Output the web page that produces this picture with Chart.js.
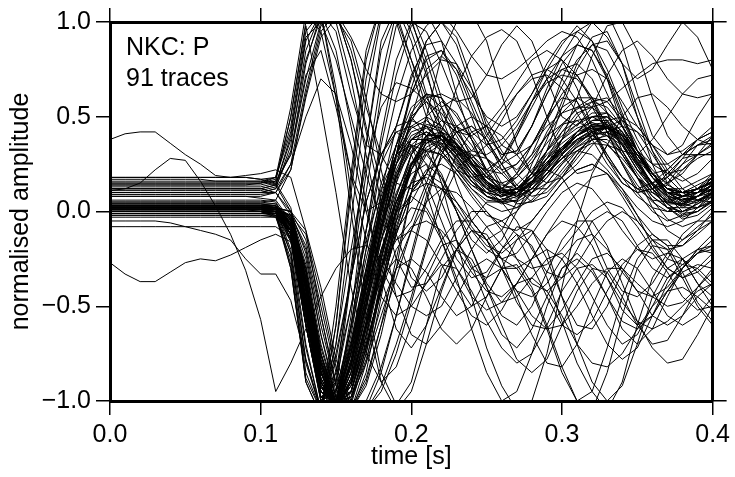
<!DOCTYPE html>
<html>
<head>
<meta charset="utf-8">
<script src="https://cdn.jsdelivr.net/npm/chart.js@4.4.1/dist/chart.umd.min.js"></script>
<style>
html,body{margin:0;padding:0;background:#fff;}
canvas{display:block;}
</style>
</head>
<body>
<canvas id="chart" width="735" height="477"></canvas>
<script>
// time samples (s), 100 Hz
const times = [0,0.01,0.02,0.03,0.04,0.05,0.06,0.07,0.08,0.09,0.1,0.11,0.12,0.13,0.14,0.15,0.16,0.17,0.18,0.19,0.2,
  0.21,0.22,0.23,0.24,0.25,0.26,0.27,0.28,0.29,0.3,0.31,0.32,0.33,0.34,0.35,0.36,0.37,0.38,0.39,0.4];
const xTicks = [0,0.1,0.2,0.3,0.4];
const yTicks = [-1,-0.5,0,0.5,1];

// main bundle, downward first motion
const trace01 = [0.02,0.02,0.02,0.02,0.02,0.02,0.02,0.02,0.02,0.02,0.02,0.01,-0.08,-0.45,-0.88,-1.04,-0.82,-0.45,-0.08,0.18,0.32,0.38,0.36,0.29,0.2,0.13,0.09,0.1,0.15,0.23,0.31,0.38,0.43,0.44,0.37,0.26,0.15,0.07,0.04,0.06,0.1];
const trace02 = [0.01,0.01,0.01,0.01,0.01,0.01,0.01,0.01,0.01,0.01,0.01,0,-0.12,-0.55,-0.95,-1.02,-0.72,-0.32,0.02,0.25,0.38,0.42,0.35,0.25,0.16,0.1,0.08,0.12,0.2,0.28,0.34,0.4,0.46,0.45,0.35,0.22,0.12,0.05,0.03,0.08,0.14];
const trace03 = [0.03,0.03,0.03,0.03,0.03,0.03,0.03,0.03,0.03,0.03,0.03,0.02,-0.04,-0.35,-0.8,-1,-0.96,-0.62,-0.25,0.05,0.25,0.36,0.4,0.35,0.26,0.16,0.09,0.07,0.12,0.2,0.3,0.37,0.41,0.42,0.38,0.3,0.18,0.09,0.04,0.02,0.05];
const trace04 = [0,0,0,0,0,0,0,0,0,0,0,-0.02,-0.22,-0.8,-1.05,-0.5,0.2,0.85,1.1,1,0.75,0.5,0.32,0.22,0.18,0.2,0.28,0.42,0.58,0.7,0.75,0.72,0.6,0.42,0.25,0.12,0.06,0.05,0.08,0.12,0.16];
const trace05 = [0.02,0.02,0.02,0.02,0.02,0.02,0.02,0.02,0.02,0.02,0.02,0.02,-0.03,-0.28,-0.7,-0.98,-1.04,-0.88,-0.6,-0.35,-0.1,0.12,0.28,0.34,0.3,0.2,0.1,0.04,0.05,0.12,0.22,0.32,0.38,0.4,0.35,0.25,0.15,0.08,0.06,0.08,0.12];
const trace06 = [0.04,0.04,0.04,0.04,0.04,0.04,0.04,0.04,0.04,0.04,0.04,0.03,-0.07,-0.45,-0.88,-1.02,-0.78,-0.4,-0.02,0.3,0.5,0.58,0.52,0.4,0.26,0.15,0.1,0.12,0.2,0.32,0.45,0.55,0.6,0.58,0.48,0.32,0.18,0.1,0.08,0.12,0.18];
const trace07 = [0.01,0.01,0.01,0.01,0.01,0.01,0.01,0.01,0.01,0.01,0,-0.03,-0.25,-0.85,-1.05,-0.75,-0.35,0.05,0.3,0.45,0.48,0.45,0.36,0.24,0.14,0.08,0.06,0.1,0.18,0.25,0.32,0.4,0.48,0.5,0.42,0.28,0.14,0.04,-0.02,0,0.06];
const trace08 = [0.02,0.02,0.02,0.02,0.02,0.02,0.02,0.02,0.02,0.02,0.02,0.02,0,-0.22,-0.65,-0.98,-1.06,-0.85,-0.45,-0.05,0.25,0.4,0.42,0.36,0.25,0.15,0.1,0.1,0.14,0.2,0.28,0.36,0.42,0.44,0.4,0.3,0.2,0.12,0.08,0.08,0.1];
const trace09 = [0.03,0.03,0.03,0.03,0.03,0.03,0.03,0.03,0.03,0.03,0.03,0.02,-0.15,-0.7,-1.05,-0.6,0.1,0.7,1.05,1.1,0.95,0.72,0.5,0.3,0.2,0.18,0.25,0.4,0.58,0.75,0.88,0.98,0.9,0.7,0.45,0.28,0.2,0.22,0.3,0.35,0.38];
const trace10 = [-0.01,-0.01,-0.01,-0.01,-0.01,-0.01,-0.01,-0.01,-0.01,-0.01,-0.01,-0.01,-0.1,-0.48,-0.9,-1.02,-0.85,-0.5,-0.15,0.1,0.26,0.32,0.3,0.22,0.12,0.04,0,0.02,0.1,0.2,0.28,0.34,0.38,0.38,0.3,0.18,0.06,-0.04,-0.08,-0.05,0.02];
const trace11 = [0.02,0.02,0.02,0.02,0.02,0.02,0.02,0.02,0.02,0.02,0.02,0.01,-0.07,-0.42,-0.85,-1.04,-0.88,-0.55,-0.2,0.05,0.2,0.25,0.18,0.05,-0.08,-0.18,-0.22,-0.15,-0.05,0.05,0.15,0.22,0.25,0.2,0.08,-0.05,-0.15,-0.2,-0.18,-0.1,-0.05];
const trace12 = [0.01,0.01,0.01,0.01,0.01,0.01,0.01,0.01,0.01,0.01,0.01,0,-0.22,-0.78,-1.05,-0.7,-0.2,0.25,0.55,0.68,0.65,0.58,0.45,0.35,0.25,0.18,0.15,0.18,0.26,0.36,0.46,0.54,0.58,0.55,0.45,0.32,0.2,0.12,0.1,0.12,0.16];
const trace13 = [0.02,0.02,0.02,0.02,0.02,0.02,0.02,0.02,0.02,0.02,0.02,0.02,-0.04,-0.3,-0.75,-1.02,-1,-0.72,-0.38,-0.08,0.15,0.3,0.36,0.34,0.28,0.2,0.14,0.12,0.16,0.24,0.33,0.4,0.45,0.46,0.41,0.32,0.22,0.14,0.1,0.1,0.12];
const trace14 = [0.03,0.03,0.03,0.03,0.03,0.03,0.03,0.03,0.03,0.03,0.03,0.03,-0.06,-0.48,-0.92,-1.05,-0.6,-0.1,0.35,0.72,0.98,1.05,0.9,0.62,0.38,0.2,0.1,0.1,0.2,0.38,0.58,0.78,0.92,0.95,0.78,0.5,0.25,0.08,0,0.02,0.1];
const trace15 = [-0.02,-0.02,-0.02,-0.02,-0.02,-0.02,-0.02,-0.02,-0.02,-0.02,-0.02,-0.03,-0.1,-0.45,-0.88,-1.03,-0.92,-0.62,-0.3,-0.05,0.1,0.15,0.12,0.05,-0.05,-0.15,-0.25,-0.3,-0.25,-0.12,0,0.1,0.18,0.2,0.12,-0.02,-0.18,-0.3,-0.35,-0.3,-0.22];
const trace16 = [0.02,0.02,0.02,0.02,0.02,0.02,0.02,0.02,0.02,0.02,0.02,0.01,-0.12,-0.55,-0.95,-1.04,-0.8,-0.4,0,0.28,0.42,0.45,0.38,0.28,0.18,0.12,0.12,0.18,0.28,0.4,0.52,0.6,0.6,0.52,0.38,0.25,0.15,0.1,0.1,0.14,0.18];
const trace17 = [0.01,0.01,0.01,0.01,0.01,0.01,0.01,0.01,0.01,0.01,0.01,0.01,-0.05,-0.36,-0.8,-1,-0.92,-0.66,-0.3,0,0.22,0.34,0.38,0.33,0.24,0.14,0.07,0.05,0.1,0.18,0.26,0.34,0.4,0.42,0.36,0.24,0.12,0.02,-0.04,-0.02,0.04];
const trace18 = [0.03,0.03,0.03,0.03,0.03,0.03,0.03,0.03,0.03,0.03,0.03,0.02,-0.09,-0.5,-0.92,-1,-0.74,-0.36,0,0.3,0.52,0.62,0.6,0.5,0.38,0.28,0.22,0.25,0.35,0.5,0.66,0.8,0.88,0.85,0.7,0.5,0.32,0.2,0.16,0.2,0.28];
const trace19 = [0.02,0.02,0.02,0.02,0.02,0.02,0.02,0.02,0.02,0.02,0.02,0.02,-0.02,-0.25,-0.65,-0.95,-1.05,-0.9,-0.6,-0.25,0.1,0.38,0.55,0.6,0.52,0.38,0.22,0.12,0.1,0.18,0.3,0.42,0.5,0.5,0.42,0.3,0.2,0.12,0.1,0.12,0.16];
const trace20 = [0.01,0.01,0.01,0.01,0.01,0.01,0.01,0.01,0.01,0.01,0.01,0,-0.3,-0.9,-1.08,-0.85,-0.5,-0.15,0.12,0.3,0.38,0.38,0.32,0.22,0.12,0.06,0.05,0.1,0.18,0.26,0.33,0.38,0.4,0.36,0.26,0.14,0.05,0,0,0.04,0.08];
const trace21 = [0.08,0.08,0.08,0.08,0.08,0.08,0.08,0.08,0.08,0.08,0.07,0.06,-0.05,-0.42,-0.85,-1.02,-0.8,-0.45,-0.1,0.2,0.38,0.45,0.42,0.32,0.2,0.1,0.05,0.06,0.12,0.22,0.32,0.42,0.5,0.52,0.45,0.32,0.2,0.1,0.06,0.08,0.12];
const trace22 = [0.18,0.18,0.18,0.18,0.18,0.18,0.18,0.18,0.18,0.18,0.17,0.15,0.02,-0.35,-0.8,-1.04,-0.95,-0.65,-0.3,0,0.22,0.36,0.42,0.38,0.28,0.18,0.12,0.14,0.22,0.32,0.4,0.46,0.5,0.5,0.42,0.3,0.18,0.1,0.08,0.1,0.14];
const trace23 = [0.06,0.06,0.06,0.06,0.06,0.06,0.06,0.06,0.06,0.06,0.06,0.05,-0.08,-0.5,-0.92,-1,-0.72,-0.35,0.02,0.3,0.45,0.5,0.45,0.35,0.22,0.12,0.08,0.1,0.16,0.24,0.32,0.4,0.45,0.45,0.38,0.28,0.18,0.12,0.12,0.16,0.2];
const trace24 = [0.12,0.12,0.12,0.12,0.12,0.12,0.12,0.12,0.12,0.12,0.12,0.1,-0.02,-0.38,-0.82,-1.05,-0.88,-0.52,-0.15,0.15,0.35,0.42,0.38,0.28,0.16,0.08,0.06,0.1,0.2,0.32,0.42,0.48,0.5,0.46,0.36,0.24,0.14,0.08,0.06,0.1,0.16];
const trace25 = [0,0,0,0,0,0,0,0,0,0,0,0,-0.02,-0.18,-0.55,-0.9,-1.05,-0.8,-0.4,-0.02,0.25,0.38,0.4,0.34,0.24,0.15,0.1,0.12,0.18,0.28,0.36,0.42,0.45,0.4,0.3,0.18,0.08,0.02,0.02,0.06,0.1];
const trace26 = [0.03,0.03,0.03,0.03,0.03,0.03,0.03,0.03,0.03,0.03,0.03,0.03,-0.07,-0.4,-0.84,-1.03,-0.9,-0.58,-0.22,0.08,0.3,0.4,0.4,0.32,0.22,0.14,0.1,0.12,0.18,0.26,0.34,0.4,0.44,0.44,0.4,0.3,0.2,0.12,0.1,0.12,0.15];
const trace27 = [-0.02,-0.02,-0.02,-0.02,-0.02,-0.02,-0.02,-0.02,-0.02,-0.02,-0.02,-0.02,-0.12,-0.52,-0.93,-1.02,-0.75,-0.38,-0.02,0.25,0.4,0.44,0.38,0.27,0.16,0.08,0.05,0.08,0.16,0.25,0.33,0.4,0.46,0.47,0.4,0.27,0.14,0.04,-0.01,0,0.05];
const trace28 = [0.01,0.01,0.01,0.01,0.01,0.01,0.01,0.01,0.01,0.01,0.01,0.01,-0.04,-0.32,-0.76,-1,-0.98,-0.75,-0.42,-0.1,0.16,0.32,0.38,0.36,0.28,0.18,0.11,0.08,0.12,0.2,0.28,0.36,0.42,0.44,0.39,0.3,0.2,0.12,0.07,0.06,0.09];
const trace29 = [0.05,0.05,0.05,0.05,0.05,0.05,0.05,0.05,0.05,0.05,0.05,0.04,-0.08,-0.46,-0.88,-1.02,-0.82,-0.48,-0.12,0.18,0.38,0.46,0.44,0.36,0.25,0.16,0.11,0.12,0.18,0.28,0.38,0.46,0.52,0.52,0.45,0.32,0.2,0.12,0.08,0.1,0.14];
const trace30 = [0,0,0,0,0,0,0,0,0,0,0,-0.01,-0.16,-0.6,-0.98,-0.98,-0.68,-0.3,0.05,0.3,0.44,0.48,0.42,0.3,0.18,0.08,0.04,0.06,0.14,0.24,0.34,0.42,0.48,0.48,0.4,0.26,0.12,0.02,-0.03,0,0.06];
const trace31 = [0.02,0.02,0.02,0.02,0.02,0.02,0.02,0.02,0.02,0.02,0.02,0.02,-0.06,-0.38,-0.82,-1.02,-0.9,-0.6,-0.28,0.02,0.24,0.36,0.4,0.36,0.26,0.16,0.1,0.09,0.14,0.22,0.3,0.38,0.43,0.45,0.4,0.3,0.18,0.1,0.06,0.08,0.12];
const trace32 = [0.01,0.01,0.01,0.01,0.01,0.01,0.01,0.01,0.01,0.01,0.01,0.01,-0.1,-0.5,-0.9,-1.03,-0.8,-0.45,-0.1,0.18,0.34,0.38,0.34,0.26,0.16,0.1,0.08,0.12,0.2,0.3,0.38,0.44,0.47,0.44,0.35,0.22,0.12,0.05,0.04,0.08,0.14];
const trace33 = [0.1,0.1,0.1,0.1,0.1,0.1,0.1,0.1,0.1,0.1,0.1,0.1,0,-0.35,-0.78,-1.02,-0.95,-0.68,-0.32,0.02,0.3,0.5,0.58,0.52,0.38,0.22,0.12,0.1,0.15,0.25,0.38,0.5,0.58,0.6,0.5,0.35,0.2,0.1,0.05,0.08,0.14];
const trace34 = [-0.01,-0.01,-0.01,-0.01,-0.01,-0.01,-0.01,-0.01,-0.01,-0.01,-0.01,-0.02,-0.3,-0.88,-1.05,-0.78,-0.35,0.05,0.3,0.42,0.45,0.4,0.32,0.22,0.14,0.1,0.12,0.2,0.3,0.4,0.46,0.48,0.42,0.3,0.18,0.08,0.02,0,0.04,0.1,0.14];
const trace35 = [0.02,0.02,0.02,0.02,0.02,0.02,0.02,0.02,0.02,0.02,0.02,0.02,0,-0.1,-0.4,-0.78,-1,-1.04,-0.85,-0.55,-0.22,0.08,0.3,0.42,0.45,0.38,0.25,0.14,0.08,0.1,0.18,0.28,0.38,0.45,0.48,0.42,0.3,0.18,0.1,0.06,0.08];
const trace36 = [0,0,0,0,0,0,0,0,0,0,0,-0.01,-0.12,-0.52,-0.92,-1.03,-0.8,-0.42,-0.05,0.22,0.38,0.42,0.38,0.3,0.2,0.12,0.08,0.1,0.16,0.24,0.32,0.4,0.45,0.45,0.38,0.26,0.14,0.06,0.03,0.05,0.1];

// fast risers that clip at the top early
const trace37 = [0,0,0,0,0,0,0,0,0,0,0,-0.01,-0.12,-0.55,-0.98,-0.9,-0.3,0.35,0.85,1.05,1,0.8,0.55,0.35,0.25,0.22,0.28,0.4,0.55,0.7,0.82,0.88,0.85,0.72,0.52,0.32,0.18,0.1,0.08,0.12,0.2];
const trace38 = [0.02,0.02,0.02,0.02,0.02,0.02,0.02,0.02,0.02,0.02,0.02,0.01,-0.2,-0.72,-1.05,-0.7,-0.05,0.6,1.02,1.05,0.8,0.55,0.38,0.3,0.32,0.4,0.52,0.62,0.7,0.72,0.65,0.52,0.38,0.25,0.15,0.1,0.12,0.18,0.25,0.3,0.3];
const trace39 = [0.01,0.01,0.01,0.01,0.01,0.01,0.01,0.01,0.01,0.01,0.01,0.01,-0.08,-0.45,-0.9,-1.02,-0.55,0.1,0.62,0.98,1.05,0.85,0.6,0.42,0.32,0.3,0.35,0.45,0.58,0.68,0.72,0.7,0.6,0.45,0.3,0.18,0.1,0.06,0.08,0.12,0.16];
const trace40 = [0.03,0.03,0.03,0.03,0.03,0.03,0.03,0.03,0.03,0.03,0.03,0.02,-0.1,-0.52,-0.95,-1,-0.6,-0.1,0.4,0.8,1,0.95,0.78,0.58,0.42,0.35,0.38,0.48,0.62,0.78,0.9,0.95,0.9,0.75,0.55,0.38,0.25,0.2,0.22,0.28,0.32];
const trace41 = [-0.01,-0.01,-0.01,-0.01,-0.01,-0.01,-0.01,-0.01,-0.01,-0.01,-0.01,-0.01,-0.15,-0.6,-1,-0.85,-0.35,0.2,0.7,1.05,1.02,0.75,0.42,0.15,-0.05,-0.15,-0.1,0.05,0.25,0.42,0.55,0.6,0.55,0.42,0.25,0.1,0,-0.05,-0.02,0.05,0.12];
const trace42 = [0.01,0.01,0.01,0.01,0.01,0.01,0.01,0.01,0.01,0.01,0.01,0,-0.28,-0.9,-1.08,-0.6,0.15,0.8,1.1,1.02,0.8,0.6,0.48,0.42,0.4,0.45,0.55,0.68,0.8,0.85,0.8,0.65,0.45,0.28,0.15,0.1,0.12,0.2,0.28,0.3,0.3];
const trace43 = [0.02,0.02,0.02,0.02,0.02,0.02,0.02,0.02,0.02,0.02,0.02,0.02,-0.1,-0.55,-0.98,-0.95,-0.35,0.35,0.9,1.08,0.9,0.62,0.4,0.3,0.28,0.35,0.48,0.62,0.72,0.75,0.7,0.58,0.42,0.28,0.18,0.12,0.1,0.14,0.22,0.3,0.35];

// traces that stay low after the first swing
const trace44 = [0.02,0.02,0.02,0.02,0.02,0.02,0.02,0.02,0.02,0.02,0.02,0.01,-0.08,-0.42,-0.85,-1.04,-0.85,-0.55,-0.3,-0.15,-0.1,-0.15,-0.28,-0.42,-0.55,-0.6,-0.52,-0.38,-0.25,-0.2,-0.25,-0.38,-0.55,-0.7,-0.78,-0.72,-0.55,-0.38,-0.25,-0.2,-0.22];
const trace45 = [0.01,0.01,0.01,0.01,0.01,0.01,0.01,0.01,0.01,0.01,0.01,0,-0.12,-0.58,-0.98,-0.95,-0.6,-0.2,0.15,0.35,0.3,0.1,-0.15,-0.38,-0.5,-0.45,-0.3,-0.15,-0.1,-0.2,-0.45,-0.7,-0.9,-1,-0.92,-0.7,-0.45,-0.3,-0.25,-0.32,-0.4];
const trace46 = [0.03,0.03,0.03,0.03,0.03,0.03,0.03,0.03,0.03,0.03,0.03,0.02,-0.06,-0.38,-0.8,-1.02,-1,-0.78,-0.5,-0.3,-0.25,-0.32,-0.45,-0.55,-0.5,-0.35,-0.2,-0.12,-0.18,-0.35,-0.58,-0.8,-0.95,-1.05,-0.9,-0.6,-0.35,-0.22,-0.25,-0.38,-0.5];
const trace47 = [0,0,0,0,0,0,0,0,0,0,0,0,-0.1,-0.5,-0.92,-1.02,-0.75,-0.35,0.05,0.35,0.5,0.4,0.15,-0.15,-0.45,-0.72,-0.92,-1.05,-1,-0.75,-0.4,-0.05,0.2,0.35,0.32,0.18,0.02,-0.1,-0.15,-0.1,0];
const trace48 = [0.02,0.02,0.02,0.02,0.02,0.02,0.02,0.02,0.02,0.02,0.02,0.02,-0.03,-0.3,-0.75,-1.02,-0.98,-0.72,-0.42,-0.2,-0.08,-0.05,-0.1,-0.2,-0.32,-0.42,-0.45,-0.38,-0.25,-0.12,-0.05,-0.08,-0.18,-0.35,-0.52,-0.6,-0.55,-0.42,-0.3,-0.22,-0.2];
const trace49 = [0.04,0.04,0.04,0.04,0.04,0.04,0.04,0.04,0.04,0.04,0.04,0.03,-0.08,-0.46,-0.9,-1.05,-0.9,-0.6,-0.35,-0.25,-0.3,-0.45,-0.62,-0.7,-0.62,-0.45,-0.3,-0.28,-0.4,-0.6,-0.82,-1,-1.05,-0.85,-0.55,-0.3,-0.18,-0.2,-0.35,-0.5,-0.6];
const trace50 = [0.01,0.01,0.01,0.01,0.01,0.01,0.01,0.01,0.01,0.01,0.01,0,-0.14,-0.6,-1,-0.95,-0.62,-0.25,0.08,0.3,0.35,0.25,0.05,-0.15,-0.3,-0.35,-0.3,-0.3,-0.42,-0.62,-0.85,-1,-0.95,-0.72,-0.45,-0.25,-0.15,-0.15,-0.25,-0.38,-0.45];
const trace51 = [0.02,0.02,0.02,0.02,0.02,0.02,0.02,0.02,0.02,0.02,0.02,0.02,-0.06,-0.38,-0.82,-1.03,-0.92,-0.6,-0.25,0.05,0.25,0.3,0.2,0,-0.2,-0.38,-0.48,-0.45,-0.35,-0.25,-0.22,-0.3,-0.45,-0.6,-0.7,-0.65,-0.5,-0.35,-0.28,-0.3,-0.38];
const trace52 = [0.02,0.02,0.02,0.02,0.02,0.02,0.02,0.02,0.02,0.02,0.02,0.02,-0.1,-0.5,-0.9,-1.02,-0.8,-0.5,-0.2,0,0.08,0.02,-0.12,-0.3,-0.45,-0.52,-0.48,-0.38,-0.35,-0.42,-0.55,-0.7,-0.8,-0.82,-0.75,-0.62,-0.5,-0.42,-0.4,-0.45,-0.52];
const trace53 = [0.03,0.03,0.03,0.03,0.03,0.03,0.03,0.03,0.03,0.03,0.03,0.03,-0.06,-0.42,-0.85,-1.04,-0.88,-0.6,-0.3,-0.1,0.02,0,-0.15,-0.35,-0.62,-0.85,-1,-0.95,-0.75,-0.5,-0.3,-0.22,-0.3,-0.45,-0.62,-0.7,-0.62,-0.45,-0.3,-0.2,-0.18];
const trace54 = [0.01,0.01,0.01,0.01,0.01,0.01,0.01,0.01,0.01,0.01,0.01,0.01,-0.14,-0.6,-1,-0.9,-0.5,-0.1,0.25,0.42,0.35,0.15,-0.05,-0.25,-0.35,-0.32,-0.2,-0.08,-0.1,-0.25,-0.45,-0.6,-0.62,-0.5,-0.32,-0.18,-0.12,-0.18,-0.32,-0.48,-0.58];
const trace55 = [0.04,0.04,0.04,0.04,0.04,0.04,0.04,0.04,0.04,0.04,0.04,0.04,-0.04,-0.38,-0.8,-1.02,-0.95,-0.7,-0.4,-0.12,0.1,0.2,0.15,0,-0.2,-0.4,-0.55,-0.6,-0.5,-0.32,-0.15,-0.05,-0.05,-0.18,-0.38,-0.58,-0.72,-0.8,-0.78,-0.65,-0.5];
const trace56 = [0,0,0,0,0,0,0,0,0,0,0,0,-0.1,-0.48,-0.9,-1.04,-0.82,-0.45,-0.08,0.2,0.35,0.32,0.18,0,-0.15,-0.22,-0.15,0,0.15,0.22,0.18,0.05,-0.12,-0.3,-0.42,-0.45,-0.38,-0.25,-0.12,-0.05,-0.05];
const trace57 = [-0.03,-0.03,-0.03,-0.03,-0.03,-0.03,-0.03,-0.03,-0.03,-0.03,-0.03,-0.03,-0.1,-0.4,-0.8,-1,-0.98,-0.8,-0.55,-0.3,-0.1,0.05,0.12,0.1,0.02,-0.08,-0.18,-0.25,-0.3,-0.28,-0.2,-0.1,0,0.05,0.02,-0.08,-0.2,-0.3,-0.35,-0.32,-0.25];

// upward first motion
const trace58 = [0.15,0.15,0.15,0.15,0.15,0.15,0.15,0.15,0.15,0.15,0.15,0.16,0.3,0.78,1.05,1,0.7,0.3,-0.1,-0.45,-0.65,-0.7,-0.6,-0.45,-0.3,-0.25,-0.3,-0.42,-0.55,-0.62,-0.6,-0.5,-0.38,-0.3,-0.3,-0.38,-0.45,-0.5,-0.48,-0.4,-0.32];
const trace59 = [0.12,0.12,0.12,0.12,0.12,0.12,0.12,0.12,0.12,0.12,0.12,0.14,0.4,0.9,1.05,0.85,0.45,0.05,-0.35,-0.62,-0.72,-0.6,-0.4,-0.2,-0.1,-0.12,-0.25,-0.45,-0.65,-0.8,-0.82,-0.7,-0.5,-0.32,-0.25,-0.3,-0.42,-0.55,-0.6,-0.55,-0.45];
const trace60 = [0.1,0.1,0.1,0.1,0.1,0.1,0.1,0.1,0.1,0.1,0.1,0.12,0.25,0.65,0.98,1.05,0.8,0.42,0.05,-0.25,-0.4,-0.38,-0.25,-0.1,0,0,-0.1,-0.25,-0.38,-0.42,-0.35,-0.2,-0.05,0,-0.05,-0.18,-0.3,-0.35,-0.3,-0.2,-0.12];
const trace61 = [0.18,0.18,0.18,0.18,0.18,0.18,0.18,0.18,0.18,0.18,0.17,0.18,0.45,0.95,1.05,0.65,0.1,-0.45,-0.85,-1.02,-0.9,-0.6,-0.3,-0.2,-0.25,-0.4,-0.6,-0.78,-0.85,-0.78,-0.6,-0.42,-0.3,-0.32,-0.45,-0.6,-0.7,-0.68,-0.55,-0.4,-0.3];
const trace62 = [0.08,0.08,0.08,0.08,0.08,0.08,0.08,0.08,0.08,0.08,0.08,0.1,0.22,0.6,0.92,1.02,0.9,0.6,0.22,-0.12,-0.35,-0.42,-0.35,-0.2,-0.05,0.05,0.05,-0.05,-0.2,-0.32,-0.35,-0.28,-0.15,-0.05,0,-0.05,-0.15,-0.25,-0.28,-0.22,-0.15];
const trace63 = [0.1,0.1,0.1,0.1,0.1,0.1,0.1,0.1,0.1,0.1,0.1,0.12,0.35,0.85,1.05,0.95,0.62,0.35,0.3,0.45,0.7,0.9,1,0.92,0.7,0.45,0.28,0.22,0.3,0.48,0.7,0.88,1,1.05,0.88,0.62,0.4,0.3,0.35,0.5,0.62];
const trace64 = [0.14,0.14,0.14,0.14,0.14,0.14,0.14,0.14,0.14,0.14,0.15,0.18,0.42,0.92,1,0.8,0.5,0.2,-0.05,-0.15,-0.05,0.15,0.35,0.45,0.4,0.28,0.15,0.1,0.15,0.28,0.42,0.52,0.55,0.48,0.35,0.22,0.15,0.18,0.28,0.38,0.42];
const trace65 = [0.05,0.05,0.05,0.05,0.05,0.05,0.05,0.05,0.05,0.05,0.05,0.06,0.22,0.62,0.95,1.05,0.8,0.45,0.15,0,0.05,0.2,0.42,0.65,0.82,0.92,0.96,0.9,0.72,0.5,0.3,0.2,0.22,0.35,0.5,0.6,0.62,0.55,0.45,0.38,0.35];
const trace66 = [0.16,0.16,0.16,0.16,0.16,0.16,0.16,0.16,0.16,0.16,0.16,0.18,0.55,1.05,0.95,0.6,0.2,-0.15,-0.45,-0.55,-0.5,-0.38,-0.28,-0.3,-0.42,-0.58,-0.72,-0.8,-0.75,-0.6,-0.42,-0.3,-0.28,-0.35,-0.48,-0.58,-0.62,-0.58,-0.5,-0.42,-0.38];
const trace67 = [0.13,0.13,0.13,0.13,0.13,0.13,0.13,0.13,0.13,0.13,0.13,0.15,0.3,0.7,1,1.05,0.85,0.55,0.3,0.15,0.12,0.2,0.32,0.42,0.45,0.38,0.25,0.12,0.05,0.08,0.18,0.3,0.4,0.45,0.42,0.32,0.2,0.1,0.05,0.08,0.15];
const trace68 = [0.12,0.12,0.12,0.12,0.12,0.12,0.12,0.12,0.12,0.12,0.12,0.14,0.38,0.8,1.02,1.05,0.92,0.75,0.62,0.58,0.62,0.72,0.8,0.78,0.65,0.48,0.35,0.3,0.35,0.48,0.62,0.72,0.75,0.7,0.58,0.45,0.35,0.3,0.32,0.38,0.42];
const trace69 = [0.15,0.15,0.15,0.15,0.15,0.15,0.15,0.15,0.15,0.15,0.15,0.17,0.5,1,1.05,0.6,0,-0.55,-0.9,-1.05,-0.95,-0.7,-0.42,-0.2,-0.1,-0.15,-0.3,-0.48,-0.6,-0.62,-0.52,-0.38,-0.25,-0.22,-0.3,-0.42,-0.55,-0.6,-0.55,-0.45,-0.38];
const trace70 = [0.09,0.09,0.09,0.09,0.09,0.09,0.09,0.09,0.09,0.09,0.09,0.1,0.25,0.5,0.7,0.62,0.35,0,-0.3,-0.45,-0.42,-0.3,-0.15,-0.05,-0.05,-0.15,-0.3,-0.42,-0.45,-0.38,-0.25,-0.15,-0.12,-0.2,-0.32,-0.42,-0.45,-0.4,-0.3,-0.22,-0.18];
const trace71 = [0.14,0.14,0.14,0.14,0.14,0.14,0.14,0.14,0.14,0.14,0.14,0.16,0.5,0.98,0.55,0.1,-0.4,-0.75,-0.9,-0.82,-0.6,-0.35,-0.18,-0.15,-0.28,-0.48,-0.65,-0.72,-0.62,-0.45,-0.3,-0.25,-0.32,-0.45,-0.58,-0.62,-0.55,-0.42,-0.32,-0.28,-0.3];
const trace72 = [0.11,0.11,0.11,0.11,0.11,0.11,0.11,0.11,0.11,0.11,0.11,0.13,0.32,0.72,0.85,0.55,0.2,0,0.05,0.25,0.48,0.62,0.6,0.45,0.28,0.15,0.12,0.2,0.35,0.5,0.6,0.58,0.45,0.3,0.18,0.12,0.15,0.22,0.3,0.35,0.36];

// large late swings
const trace73 = [0,0,0,0,0,0,0,0,0,0,0,0,-0.06,-0.32,-0.72,-0.98,-1.05,-0.92,-0.65,-0.3,0.1,0.5,0.82,1,1.05,0.9,0.62,0.35,0.2,0.22,0.38,0.6,0.82,0.98,1,0.85,0.6,0.4,0.3,0.3,0.36];
const trace74 = [0.02,0.02,0.02,0.02,0.02,0.02,0.02,0.02,0.02,0.02,0.02,0.02,-0.06,-0.4,-0.85,-1.05,-0.85,-0.5,-0.1,0.3,0.65,0.9,1,0.88,0.65,0.42,0.3,0.32,0.45,0.62,0.75,0.78,0.7,0.52,0.32,0.18,0.12,0.15,0.25,0.35,0.4];
const trace75 = [0.01,0.01,0.01,0.01,0.01,0.01,0.01,0.01,0.01,0.01,0.01,0,-0.12,-0.52,-0.95,-1,-0.7,-0.32,0.05,0.35,0.55,0.62,0.55,0.42,0.3,0.22,0.2,0.25,0.35,0.45,0.52,0.55,0.55,0.58,0.65,0.72,0.78,0.8,0.8,0.78,0.8];
const trace76 = [0.03,0.03,0.03,0.03,0.03,0.03,0.03,0.03,0.03,0.03,0.03,0.02,-0.1,-0.48,-0.9,-1.04,-0.78,-0.38,0.02,0.35,0.62,0.8,0.85,0.75,0.55,0.35,0.25,0.3,0.45,0.65,0.82,0.95,1,0.92,0.78,0.7,0.75,0.88,1,0.92,0.75];
const trace77 = [0.02,0.02,0.02,0.02,0.02,0.02,0.02,0.02,0.02,0.02,0.02,0.01,-0.1,-0.5,-0.92,-1.02,-0.75,-0.4,-0.05,0.25,0.48,0.6,0.62,0.58,0.6,0.72,0.88,0.98,0.9,0.7,0.5,0.45,0.55,0.72,0.85,0.9,0.82,0.7,0.62,0.6,0.62];
const trace78 = [0.02,0.02,0.02,0.02,0.02,0.02,0.02,0.02,0.02,0.02,0.02,0.02,-0.12,-0.55,-0.95,-1.02,-0.7,-0.3,0.1,0.45,0.72,0.88,0.9,0.78,0.58,0.4,0.3,0.32,0.45,0.62,0.78,0.88,0.85,0.7,0.5,0.32,0.2,0.15,0.2,0.3,0.4];
const trace79 = [0.01,0.01,0.01,0.01,0.01,0.01,0.01,0.01,0.01,0.01,0.01,0.01,-0.06,-0.4,-0.85,-1.04,-0.85,-0.48,-0.08,0.3,0.62,0.82,0.85,0.72,0.5,0.28,0.12,0.08,0.15,0.32,0.55,0.75,0.88,0.9,0.78,0.55,0.32,0.15,0.08,0.1,0.18];
const trace80 = [0.02,0.02,0.02,0.02,0.02,0.02,0.02,0.02,0.02,0.02,0.02,0.02,-0.05,-0.35,-0.78,-1,-0.95,-0.65,-0.25,0.15,0.5,0.75,0.82,0.75,0.62,0.5,0.45,0.5,0.62,0.75,0.8,0.72,0.58,0.42,0.32,0.3,0.38,0.5,0.62,0.7,0.72];
const trace81 = [0.02,0.02,0.02,0.02,0.02,0.02,0.02,0.02,0.02,0.02,0.02,0.02,0,-0.15,-0.5,-0.85,-1.02,-1.05,-0.92,-0.7,-0.45,-0.18,0.1,0.3,0.42,0.45,0.4,0.3,0.2,0.15,0.18,0.25,0.35,0.42,0.45,0.42,0.35,0.25,0.18,0.12,0.1];
const trace82 = [0.01,0.01,0.01,0.01,0.01,0.01,0.01,0.01,0.01,0.01,0.01,0.01,-0.02,-0.2,-0.6,-0.92,-1.05,-1,-0.82,-0.55,-0.25,0.05,0.3,0.45,0.5,0.45,0.32,0.2,0.12,0.12,0.2,0.3,0.4,0.48,0.5,0.45,0.35,0.22,0.12,0.06,0.05];
const trace83 = [0.03,0.03,0.03,0.03,0.03,0.03,0.03,0.03,0.03,0.03,0.03,0.03,-0.12,-0.6,-0.98,-1,-0.65,-0.2,0.25,0.6,0.85,0.98,1.05,0.95,0.82,0.72,0.7,0.75,0.82,0.9,0.95,0.92,0.8,0.62,0.45,0.32,0.25,0.25,0.3,0.38,0.45];
const trace84 = [0,0,0,0,0,0,0,0,0,0,0,0,-0.02,-0.12,-0.45,-0.82,-1.02,-1.05,-0.95,-0.75,-0.48,-0.2,0.05,0.22,0.3,0.28,0.2,0.12,0.1,0.15,0.25,0.35,0.42,0.45,0.4,0.3,0.18,0.08,0.02,0.02,0.06];

// odd pre-event traces
const trace85 = [0.38,0.41,0.42,0.42,0.36,0.3,0.25,0.19,0.18,0.19,0.2,0.22,0.18,-0.1,-0.55,-0.92,-1.02,-0.75,-0.35,0,0.25,0.38,0.4,0.33,0.22,0.12,0.05,0.02,0.06,0.15,0.25,0.32,0.36,0.35,0.28,0.18,0.08,0.02,0,0.04,0.1];
const trace86 = [0.11,0.12,0.15,0.22,0.28,0.27,0.16,0.03,-0.12,-0.31,-0.57,-0.95,-0.8,-0.62,-0.45,-0.3,-0.2,-0.18,-0.25,-0.38,-0.5,-0.55,-0.5,-0.35,-0.2,-0.08,-0.05,-0.12,-0.28,-0.45,-0.6,-0.65,-0.58,-0.42,-0.28,-0.2,-0.22,-0.32,-0.45,-0.52,-0.5];
const trace87 = [-0.27,-0.33,-0.37,-0.37,-0.32,-0.27,-0.25,-0.26,-0.23,-0.19,-0.15,-0.12,-0.16,-0.4,-0.75,-0.98,-0.95,-0.7,-0.4,-0.12,0.1,0.22,0.25,0.2,0.1,0,-0.08,-0.1,-0.05,0.05,0.15,0.22,0.25,0.2,0.1,-0.02,-0.12,-0.18,-0.18,-0.12,-0.05];
const trace88 = [-0.05,-0.05,-0.05,-0.05,-0.06,-0.08,-0.1,-0.12,-0.15,-0.25,-0.33,-0.33,-0.47,-0.78,-1.05,-0.95,-0.7,-0.4,-0.15,0.05,0.15,0.18,0.12,0.02,-0.1,-0.2,-0.25,-0.22,-0.12,0,0.1,0.15,0.12,0.02,-0.1,-0.2,-0.25,-0.22,-0.15,-0.08,-0.02];
const trace89 = [-0.08,-0.08,-0.08,-0.08,-0.08,-0.08,-0.08,-0.08,-0.08,-0.08,-0.08,-0.08,-0.14,-0.45,-0.85,-1.04,-0.9,-0.6,-0.25,0.05,0.25,0.33,0.3,0.2,0.08,-0.02,-0.05,0,0.1,0.2,0.28,0.32,0.3,0.22,0.12,0.02,-0.05,-0.08,-0.05,0.02,0.08];
const trace90 = [0.17,0.17,0.17,0.17,0.17,0.17,0.17,0.16,0.16,0.16,0.16,0.14,0,-0.32,-0.75,-1.02,-0.98,-0.72,-0.38,-0.05,0.22,0.4,0.48,0.45,0.35,0.22,0.12,0.08,0.12,0.2,0.3,0.38,0.42,0.4,0.32,0.2,0.1,0.04,0.04,0.08,0.12];
const trace91 = [0.02,0.02,0.02,0.02,0.02,0.02,0.02,0.02,0.02,0.02,0.02,0.02,-0.07,-0.4,-0.84,-1.03,-0.9,-0.58,-0.22,0.08,0.3,0.4,0.4,0.32,0.22,0.14,0.1,0.12,0.18,0.26,0.34,0.4,0.44,0.44,0.4,0.3,0.2,0.12,0.1,0.12,0.15];

const traces = [trace01,trace02,trace03,trace04,trace05,trace06,trace07,trace08,trace09,trace10,
  trace11,trace12,trace13,trace14,trace15,trace16,trace17,trace18,trace19,trace20,
  trace21,trace22,trace23,trace24,trace25,trace26,trace27,trace28,trace29,trace30,
  trace31,trace32,trace33,trace34,trace35,trace36,trace37,trace38,trace39,trace40,
  trace41,trace42,trace43,trace44,trace45,trace46,trace47,trace48,trace49,trace50,
  trace51,trace52,trace53,trace54,trace55,trace56,trace57,trace58,trace59,trace60,
  trace61,trace62,trace63,trace64,trace65,trace66,trace67,trace68,trace69,trace70,
  trace71,trace72,trace73,trace74,trace75,trace76,trace77,trace78,trace79,trace80,
  trace81,trace82,trace83,trace84,trace85,trace86,trace87,trace88,trace89,trace90,trace91];

const stationText = 'NKC: P';
const countText = traces.length + ' traces';

Chart.defaults.font.family = '"Liberation Sans", Arial, Helvetica, sans-serif';
Chart.defaults.font.size = 25;
Chart.defaults.color = '#000';

const fmt = v => (v < 0 ? '\u2212' : '') + Math.abs(v).toFixed(1);

// same frame/tick look on all four sides
const gridOpts = {drawOnChartArea:false, drawTicks:true, tickLength:14, color:'#000', lineWidth:1.5};
const borderOpts = {display:true, color:'#000', width:3};

const cornerText = {
  id:'cornerText',
  afterDraw(chart){
    const {ctx, chartArea} = chart;
    ctx.save();
    ctx.font = '25px "Liberation Sans", Arial, sans-serif';
    ctx.fillStyle = '#000';
    ctx.textBaseline = 'alphabetic';
    ctx.fillText(stationText, chartArea.left + 16, chartArea.top + 33);
    ctx.fillText(countText, chartArea.left + 16, chartArea.top + 64);
    ctx.restore();
  }
};

const ctx = document.getElementById('chart').getContext('2d');
new Chart(ctx, {
  type:'line',
  data:{
    labels: times,
    datasets: traces.map(tr => ({
      data: tr,
      borderColor:'#000',
      borderWidth:1,
      pointRadius:0,
      tension:0,
      fill:false
    }))
  },
  options:{
    responsive:false,
    animation:false,
    layout:{padding:0},
    plugins:{legend:{display:false}, tooltip:{enabled:false}},
    scales:{
      x:{
        type:'linear', position:'bottom', min:0, max:0.4,
        afterBuildTicks: s => { s.ticks = xTicks.map(v => ({value:v})); },
        ticks:{callback:v => v.toFixed(1), padding:5, maxRotation:0, autoSkip:false},
        grid:gridOpts, border:borderOpts,
        title:{display:true, text:'time [s]', padding:{top:0, bottom:5}},
        afterFit: s => { s.height = 76; }
      },
      x2:{
        type:'linear', position:'top', min:0, max:0.4,
        afterBuildTicks: s => { s.ticks = xTicks.map(v => ({value:v})); },
        ticks:{display:false},
        grid:gridOpts, border:borderOpts,
        afterFit: s => { s.height = 22; }
      },
      y:{
        type:'linear', position:'left', min:-1, max:1,
        afterBuildTicks: s => { s.ticks = yTicks.map(v => ({value:v})); },
        ticks:{callback:fmt, padding:5},
        grid:gridOpts, border:borderOpts,
        title:{display:true, text:'normalised amplitude', padding:{top:6, bottom:0}},
        afterFit: s => { s.width = 110; }
      },
      y2:{
        type:'linear', position:'right', min:-1, max:1,
        afterBuildTicks: s => { s.ticks = yTicks.map(v => ({value:v})); },
        ticks:{display:false},
        grid:gridOpts, border:borderOpts,
        afterFit: s => { s.width = 20; }
      }
    }
  },
  plugins:[cornerText]
});
</script>
</body>
</html>
